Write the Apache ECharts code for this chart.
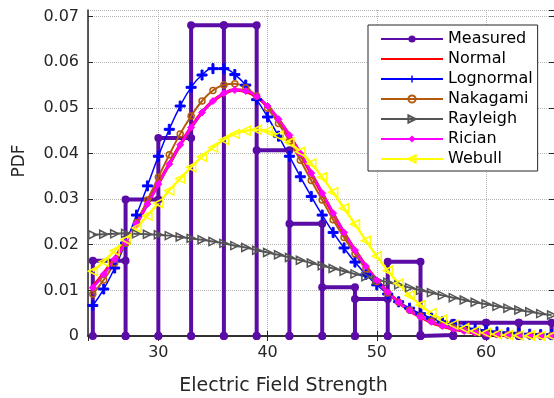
<!DOCTYPE html>
<html>
<head>
<meta charset="utf-8">
<script src="https://cdn.jsdelivr.net/npm/echarts@6/dist/echarts.min.js"></script>
<style>
  html, body { margin: 0; padding: 0; background: #fff; }
  #pdf-chart { width: 554px; height: 398px; }
</style>
</head>
<body>
<div id="pdf-chart"></div>
<script>
(function() {

// histogram of the measured field strength (bin edges + bar heights)
const binEdges = [24, 27, 30, 33, 36, 39, 42, 45, 48, 51, 54, 57, 60, 63, 66];
const measured = [0.0165, 0.0299, 0.0434, 0.0681, 0.0681, 0.0407, 0.0246,
                  0.0107, 0.0081, 0.0163, 0.0002, 0.0029, 0.0029, 0.0029];

// fitted curves, read at every unit of field strength
const fieldX = [24, 25, 26, 27, 28, 29, 30, 31, 32, 33, 34, 35, 36, 37, 38, 39, 40, 41, 42, 43, 44,
                45, 46, 47, 48, 49, 50, 51, 52, 53, 54, 55, 56, 57, 58, 59, 60, 61, 62, 63, 64, 65, 66];
const normal = [0.0108, 0.0137, 0.0170, 0.0207, 0.0247, 0.0290, 0.0334, 0.0377, 0.0419, 0.0457,
                0.0490, 0.0515, 0.0531, 0.0539, 0.0536, 0.0524, 0.0503, 0.0474, 0.0439, 0.0399,
                0.0356, 0.0312, 0.0268, 0.0226, 0.0188, 0.0153, 0.0122, 0.0096, 0.0074, 0.0056,
                0.0042, 0.0030, 0.0022, 0.0015, 0.0011, 0.0007, 0.0005, 0.0003, 0.0002, 0.0001,
                0.0001, 0.0001, 0.0000];
const lognormal = [0.0067, 0.0103, 0.0149, 0.0204, 0.0265, 0.0329, 0.0394, 0.0453, 0.0504, 0.0545,
                   0.0572, 0.0586, 0.0586, 0.0573, 0.0550, 0.0518, 0.0480, 0.0438, 0.0394, 0.0349,
                   0.0306, 0.0265, 0.0227, 0.0193, 0.0162, 0.0135, 0.0112, 0.0092, 0.0075, 0.0061,
                   0.0049, 0.0039, 0.0031, 0.0025, 0.0019, 0.0015, 0.0012, 0.0009, 0.0007, 0.0006,
                   0.0004, 0.0003, 0.0003];
const nakagami = [0.0092, 0.0123, 0.0160, 0.0203, 0.0249, 0.0298, 0.0348, 0.0397, 0.0443, 0.0482,
                  0.0515, 0.0538, 0.0550, 0.0553, 0.0544, 0.0526, 0.0499, 0.0466, 0.0427, 0.0385,
                  0.0341, 0.0298, 0.0255, 0.0216, 0.0180, 0.0147, 0.0119, 0.0094, 0.0074, 0.0057,
                  0.0044, 0.0033, 0.0024, 0.0018, 0.0013, 0.0009, 0.0006, 0.0004, 0.0003, 0.0002,
                  0.0001, 0.0001, 0.0001];
const rayleigh = [0.0222, 0.0223, 0.0224, 0.0225, 0.0224, 0.0223, 0.0222, 0.0220, 0.0217, 0.0214,
                  0.0211, 0.0207, 0.0203, 0.0198, 0.0194, 0.0188, 0.0183, 0.0178, 0.0172, 0.0166,
                  0.0160, 0.0154, 0.0148, 0.0142, 0.0136, 0.0130, 0.0123, 0.0118, 0.0112, 0.0106,
                  0.0100, 0.0095, 0.0089, 0.0084, 0.0079, 0.0074, 0.0070, 0.0065, 0.0061, 0.0057,
                  0.0053, 0.0049, 0.0046];
const rician = [0.0106, 0.0135, 0.0168, 0.0205, 0.0246, 0.0289, 0.0333, 0.0377, 0.0419, 0.0457,
                0.0490, 0.0515, 0.0532, 0.0539, 0.0537, 0.0525, 0.0504, 0.0475, 0.0440, 0.0400,
                0.0357, 0.0313, 0.0269, 0.0227, 0.0188, 0.0153, 0.0122, 0.0096, 0.0074, 0.0056,
                0.0042, 0.0031, 0.0022, 0.0016, 0.0011, 0.0007, 0.0005, 0.0003, 0.0002, 0.0001,
                0.0001, 0.0000, 0.0000];
const webull = [0.0142, 0.0163, 0.0187, 0.0211, 0.0237, 0.0264, 0.0291, 0.0319, 0.0345, 0.0370,
                0.0393, 0.0413, 0.0430, 0.0443, 0.0450, 0.0452, 0.0449, 0.0439, 0.0424, 0.0404,
                0.0378, 0.0348, 0.0315, 0.0280, 0.0245, 0.0209, 0.0175, 0.0143, 0.0115, 0.0089,
                0.0068, 0.0050, 0.0036, 0.0025, 0.0017, 0.0011, 0.0007, 0.0004, 0.0002, 0.0001,
                0.0001, 0.0000, 0.0000];

const FONT = "DejaVu Sans";
const TXT = "#262626";

// outline of every bin: up the left edge, across, down the right edge
const histPath = [];
measured.forEach((h, i) => {
  histPath.push([binEdges[i], 0], [binEdges[i], h], [binEdges[i + 1], h], [binEdges[i + 1], 0]);
});

const pairs = (ys) => ys.map((y, i) => [fieldX[i], y]);

const plusPath = "path://M4,0H6V4H10V6H6V10H4V6H0V4H4Z";
const hollow = "rgba(255,255,255,0)";

function curve(name, ys, color, opts) {
  return Object.assign({
    name: name,
    type: "line",
    data: pairs(ys),
    smooth: true,
    lineStyle: { color: color, width: 2 },
    itemStyle: { color: color, borderColor: color },
  }, opts);
}

const series = [
  {
    name: "Measured",
    type: "line",
    data: histPath,
    symbol: "circle",
    symbolSize: 8,
    lineStyle: { color: "#5b0ba6", width: 4 },
    itemStyle: { color: "#5b0ba6" },
  },
  curve("Normal", normal, "#ff0000", { symbol: "none", lineStyle: { color: "#ff0000", width: 3.5 } }),
  curve("Lognormal", lognormal, "#0000ff", { symbol: plusPath, symbolSize: 10, lineStyle: { color: "#0000ff", width: 1.5 } }),
  curve("Nakagami", nakagami, "#b35a0d", {
    symbol: "circle", symbolSize: 6,
    itemStyle: { color: hollow, borderColor: "#b35a0d", borderWidth: 1.5 },
  }),
  curve("Rayleigh", rayleigh, "#555555", {
    symbol: "triangle", symbolSize: 8, symbolRotate: -90,
    itemStyle: { color: hollow, borderColor: "#555555", borderWidth: 1.5 },
  }),
  curve("Rician", rician, "#ff00ff", { symbol: "diamond", symbolSize: 7, lineStyle: { color: "#ff00ff", width: 2.5 } }),
  curve("Webull", webull, "#ffff00", {
    symbol: "triangle", symbolSize: 9, symbolRotate: 90,
    lineStyle: { color: "#ffff00", width: 2.5 },
    itemStyle: { color: hollow, borderColor: "#ffff00", borderWidth: 1.5 },
  }),
];

const gridDots = { type: "dotted", color: "#b4b4b4", width: 1 };

const option = {
  animation: false,
  backgroundColor: "#fff",
  grid: { left: 88, right: 0, top: 10, bottom: 62 },
  legend: {
    orient: "vertical",
    left: 368,
    top: 25,
    padding: [6, 5, 4, 12],
    itemWidth: 62,
    itemHeight: 9,
    itemGap: 4,
    backgroundColor: "#fff",
    borderColor: "#262626",
    borderWidth: 1,
    textStyle: { fontFamily: FONT, fontSize: 16, color: "#000", lineHeight: 16 },
    data: [
      "Measured",
      { name: "Normal", itemStyle: { opacity: 0 } },
      "Lognormal", "Nakagami", "Rayleigh", "Rician", "Webull",
    ],
  },
  xAxis: [
    {
      type: "value",
      min: 23.56,
      max: 66.22,
      axisLine: { lineStyle: { color: TXT, width: 1.5 } },
      axisTick: { inside: true, length: 5, lineStyle: { color: TXT } },
      axisLabel: { showMinLabel: false, showMaxLabel: false, margin: 9,
                   fontFamily: FONT, fontSize: 16, color: TXT },
      splitLine: { show: true, lineStyle: gridDots },
    },
    {
      type: "value",
      position: "top",
      min: 23.56,
      max: 66.22,
      axisLine: { lineStyle: { color: TXT, width: 1.5 } },
      axisTick: { inside: true, length: 5, lineStyle: { color: TXT } },
      axisLabel: { show: false },
      splitLine: { show: false },
    },
  ],
  yAxis: [
    {
      type: "value",
      min: 0,
      max: 0.07145,
      interval: 0.01,
      axisLine: { show: true, lineStyle: { color: TXT, width: 1.5 } },
      axisTick: { show: true, inside: true, length: 5, lineStyle: { color: TXT } },
      axisLabel: { showMaxLabel: false, margin: 9, fontFamily: FONT, fontSize: 16, color: TXT },
      splitLine: { show: true, lineStyle: gridDots },
    },
    {
      type: "value",
      position: "right",
      min: 0,
      max: 0.07145,
      interval: 0.01,
      axisLine: { show: false },
      axisTick: { show: true, inside: true, length: 5, lineStyle: { color: TXT } },
      axisLabel: { show: false },
      splitLine: { show: false },
    },
  ],
  graphic: [
    {
      type: "text",
      x: 283.5,
      y: 386,
      style: { text: "Electric Field Strength", fontFamily: FONT, fontSize: 19, fill: TXT,
               align: "center", verticalAlign: "middle" },
    },
    {
      type: "text",
      x: 19.7,
      y: 161,
      rotation: Math.PI / 2,
      style: { text: "PDF", fontFamily: FONT, fontSize: 17, fill: TXT,
               align: "center", verticalAlign: "middle" },
    },
  ],
  series: series,
};

const chart = echarts.init(document.getElementById("pdf-chart"));
chart.setOption(option);

window.addEventListener("resize", () => chart.resize());
})();
</script>
</body>
</html>
